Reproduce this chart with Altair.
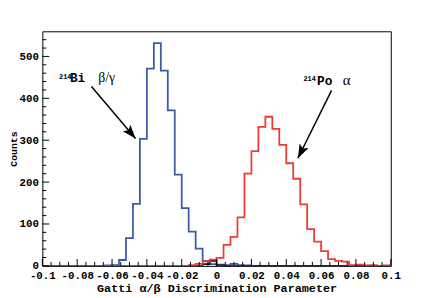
import altair as alt
import pandas as pd

# ---- data ----
bin_start = -0.1
bin_width = 0.004
bi_counts = [0, 0, 0, 0, 0, 0, 0, 0, 0, 1,
             2, 14, 66, 148, 303, 471, 532, 466, 371, 218,
             138, 82, 41, 12, 4, 3, 2, 5, 2, 1,
             0, 0, 0, 0, 0, 0, 0, 0, 0, 0,
             0, 0, 0, 0, 0, 0, 0, 0, 0, 0]
po_counts = [0, 0, 0, 0, 0, 0, 0, 0, 0, 0,
             0, 0, 0, 0, 0, 0, 0, 0, 0, 0,
             0, 2, 5, 11, 15, 19, 50, 69, 116, 220,
             274, 332, 356, 327, 289, 245, 208, 147, 88, 58,
             35, 16, 12, 10, 2, 3, 1, 2, 0, 1]
other_counts = [0, 0, 0, 0, 0, 0, 0, 0, 0, 0,
                0, 0, 0, 0, 0, 0, 0, 0, 0, 0,
                0, 0, 0, 4, 12, 1, 0, 0, 0, 0,
                0, 0, 0, 0, 0, 0, 0, 0, 0, 0,
                0, 0, 0, 0, 0, 0, 0, 0, 0, 0]

x_major = [-0.1, -0.08, -0.06, -0.04, -0.02, 0.0, 0.02, 0.04, 0.06, 0.08, 0.1]
y_major = [0, 100, 200, 300, 400, 500]

# annotations (data coordinates)
bi_sup = ["214"]; bi_sup_xy = (-0.0904, 447)
bi_txt = ["Bi"]; bi_txt_xy = (-0.0842, 440)
bi_greek = ["β/γ"]; bi_greek_xy = (-0.0679, 438)
po_sup = ["214"]; po_sup_xy = (0.0499, 442)
po_txt = ["Po"]; po_txt_xy = (0.0577, 431)
po_greek = ["α"]; po_greek_xy = (0.0724, 431)
arrow_tail_x = [-0.0718, 0.0660]
arrow_tail_y = [428, 419]
arrow_tip_x = [-0.0465, 0.0467]
arrow_tip_y = [304, 257]
arrow_angle = [139.7, 206.5]

W, H = 355, 239
MONO = "Liberation Mono"
SERIF = "Liberation Serif"

xscale = alt.Scale(domain=[-0.1, 0.1], nice=False, zero=False)
yscale = alt.Scale(domain=[0, 560], nice=False, zero=True)
XAXIS = alt.Axis(
    values=x_major, labelExpr="replace(format(datum.value, '.2~f'), '−', '-')",
    labelOverlap=False, labelFlush=False, labelBound=False,
    grid=False, domain=False, ticks=False,
    title="Gatti α/β Discrimination Parameter")
YAXIS = alt.Axis(
    values=y_major, format="d", title="Counts",
    labelOverlap=False, labelFlush=False, grid=False, domain=False, ticks=False)


def X(field):
    return alt.X(field, scale=xscale, axis=XAXIS)


def Y(field):
    return alt.Y(field, scale=yscale, axis=YAXIS)


def hist_df(counts):
    edges = [round(bin_start + i * bin_width, 6) for i in range(len(counts))]
    edges.append(round(bin_start + len(counts) * bin_width, 6))
    vals = list(counts) + [counts[-1]]
    return pd.DataFrame({"x": edges, "y": vals})


def hist_layer(counts, color):
    return alt.Chart(hist_df(counts)).mark_line(
        interpolate="step-after", color=color, strokeWidth=1.8, clip=True
    ).encode(x=X("x:Q"), y=Y("y:Q"))


blue = hist_layer(bi_counts, "#3c5aa8")
red = hist_layer(po_counts, "#f03a32")
black = hist_layer(other_counts, "#111111")

# inward tick marks (ROOT style)
x_minor = [round(-0.1 + i * 0.005, 4) for i in range(41) if i % 4 != 0]
y_minor = [v for v in range(20, 560, 20) if v % 100 != 0]

xt_major = alt.Chart(pd.DataFrame({"x": x_major})).mark_rule(color="black", strokeWidth=1).encode(
    x=X("x:Q"), y=alt.value(H), y2=alt.value(H - 7))
xt_minor = alt.Chart(pd.DataFrame({"x": x_minor})).mark_rule(color="black", strokeWidth=1).encode(
    x=X("x:Q"), y=alt.value(H), y2=alt.value(H - 4))
yt_major = alt.Chart(pd.DataFrame({"y": y_major})).mark_rule(color="black", strokeWidth=1).encode(
    y=Y("y:Q"), x=alt.value(0), x2=alt.value(7))
yt_minor = alt.Chart(pd.DataFrame({"y": y_minor})).mark_rule(color="black", strokeWidth=1).encode(
    y=Y("y:Q"), x=alt.value(0), x2=alt.value(4))


def text_layer(txt, xy, font, size, weight="normal"):
    df = pd.DataFrame({"t": txt, "x": [xy[0]], "y": [xy[1]]})
    return alt.Chart(df).mark_text(
        font=font, fontSize=size, fontWeight=weight, color="black",
        align="left", baseline="alphabetic"
    ).encode(x=X("x:Q"), y=Y("y:Q"), text="t:N")


texts = [
    text_layer(bi_sup, bi_sup_xy, MONO, 7, "bold"),
    text_layer(bi_txt, bi_txt_xy, MONO, 13, "bold"),
    text_layer(bi_greek, bi_greek_xy, SERIF, 14),
    text_layer(po_sup, po_sup_xy, MONO, 7, "bold"),
    text_layer(po_txt, po_txt_xy, MONO, 13, "bold"),
    text_layer(po_greek, po_greek_xy, SERIF, 15),
]

arrows_df = pd.DataFrame({"x": arrow_tail_x, "y": arrow_tail_y,
                          "x2": arrow_tip_x, "y2": arrow_tip_y, "angle": arrow_angle})
arrow_lines = alt.Chart(arrows_df).mark_rule(color="black", strokeWidth=1.5).encode(
    x=X("x:Q"), y=Y("y:Q"), x2="x2:Q", y2="y2:Q")
arrow_heads = alt.Chart(arrows_df).mark_point(
    shape="M0,0 L0.36,1 L0,0.78 L-0.36,1 Z", filled=True, color="black",
    opacity=1, size=800, strokeWidth=0
).encode(x=X("x2:Q"), y=Y("y2:Q"),
         angle=alt.Angle("angle:Q", scale=None))

chart = alt.layer(
    blue, black, red, xt_major, xt_minor, yt_major, yt_minor,
    arrow_lines, arrow_heads, *texts
).properties(
    width=W, height=H,
    autosize=alt.AutoSizeParams(type="none"),
    padding={"left": 35, "top": 21, "right": 42, "bottom": 30},
    background="white",
).configure_view(
    stroke="black", strokeWidth=1
).configure_axis(
    labelFont=MONO, labelFontSize=11, labelFontWeight="bold", labelColor="black",
    labelPadding=4,
    titleFont=MONO, titleFontWeight="bold", titleColor="black",
).configure_axisX(
    titleFontSize=12, titlePadding=2
).configure_axisY(
    titleFontSize=10, titlePadding=1
)

chart.save("out.html", embed_options={"renderer": "svg", "actions": False})
